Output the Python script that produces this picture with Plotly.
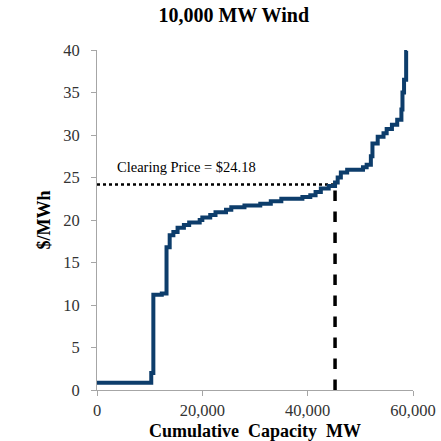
import plotly.graph_objects as go

capacity_mw = [0, 10300, 10700, 12300, 13200, 13800, 14500, 15300, 16500, 17500, 19500,
               20000, 21500, 22500, 24500, 25500, 28000, 31000, 33000, 35000, 39000,
               40500, 41500, 42500, 44000, 45200, 45700, 46300, 47500, 50500, 51200,
               52000, 52300, 53300, 54400, 55000, 56000, 57000, 57800, 58000, 58300,
               58700, 58850]
price = [0.85, 2.0, 11.2, 11.35, 16.8, 18.2, 18.6, 19.1, 19.4, 19.7, 20.0,
         20.3, 20.6, 20.9, 21.2, 21.5, 21.7, 21.9, 22.2, 22.5, 22.7,
         22.9, 23.3, 23.7, 24.0, 24.4, 25.0, 25.6, 25.9, 26.2, 26.5,
         27.5, 29.0, 29.8, 30.2, 30.7, 31.2, 31.8, 33.0, 35.0, 36.5,
         39.9, 39.9]

clearing_price = 24.18
clearing_mw = 45200

x_ticks = [0, 20000, 40000, 60000]
y_ticks = [0, 5, 10, 15, 20, 25, 30, 35, 40]

serif = "'Liberation Serif', 'Times New Roman', 'DejaVu Serif', serif"

fig = go.Figure()
fig.add_trace(go.Scatter(x=[0, clearing_mw], y=[clearing_price, clearing_price],
                         mode="lines", line=dict(color="black", width=2.5, dash="dot"),
                         hoverinfo="skip"))
fig.add_trace(go.Scatter(x=[clearing_mw, clearing_mw], y=[0, clearing_price],
                         mode="lines", line=dict(color="black", width=3.5, dash="dash"),
                         hoverinfo="skip"))
fig.add_trace(go.Scatter(x=capacity_mw, y=price, mode="lines", line_shape="hv",
                         line=dict(color="#0d3d6b", width=4)))

fig.add_annotation(x=0.058, xref="paper", y=clearing_price, yref="y", yshift=17,
                   text="Clearing Price = $24.18", showarrow=False, xanchor="left",
                   font=dict(family=serif, size=14.5, color="black"))

fig.update_layout(
    width=441, height=441,
    margin=dict(l=97, r=28, t=50, b=51, autoexpand=False),
    plot_bgcolor="white", paper_bgcolor="white",
    showlegend=False,
    font=dict(family=serif),
    title=dict(text="<b>10,000 MW Wind</b>", x=0.53, xanchor="center", y=0.965, yanchor="middle",
               automargin=False,
               font=dict(family=serif, size=20, color="black")),
)
fig.update_xaxes(range=[0, 60000], tickvals=x_ticks, tickformat=",", showgrid=False,
                 zeroline=False, showline=True, linecolor="#a6a6a6", linewidth=1,
                 ticks="outside", ticklen=5, tickcolor="#a6a6a6", automargin=False,
                 tickfont=dict(family=serif, size=16.5, color="#333333"),
                 title=dict(text="<b>Cumulative  Capacity  MW</b>", standoff=6,
                            font=dict(family=serif, size=18, color="black")))
fig.update_yaxes(range=[0, 40], tickvals=y_ticks, showgrid=False, zeroline=False,
                 showline=True, linecolor="#a6a6a6", linewidth=1,
                 ticks="outside", ticklen=5, tickcolor="#a6a6a6", automargin=False,
                 ticklabelstandoff=8,
                 tickfont=dict(family=serif, size=16.5, color="#333333"),
                 title=dict(text="<b>$/MWh</b>", standoff=7,
                            font=dict(family=serif, size=18, color="black")))

fig.write_html("out.html", config={"displayModeBar": False})
with open("out.html", encoding="utf-8") as f:
    html = f.read()
html = html.replace("<body>", '<body style="margin:0;padding:0;">', 1)
with open("out.html", "w", encoding="utf-8") as f:
    f.write(html)
